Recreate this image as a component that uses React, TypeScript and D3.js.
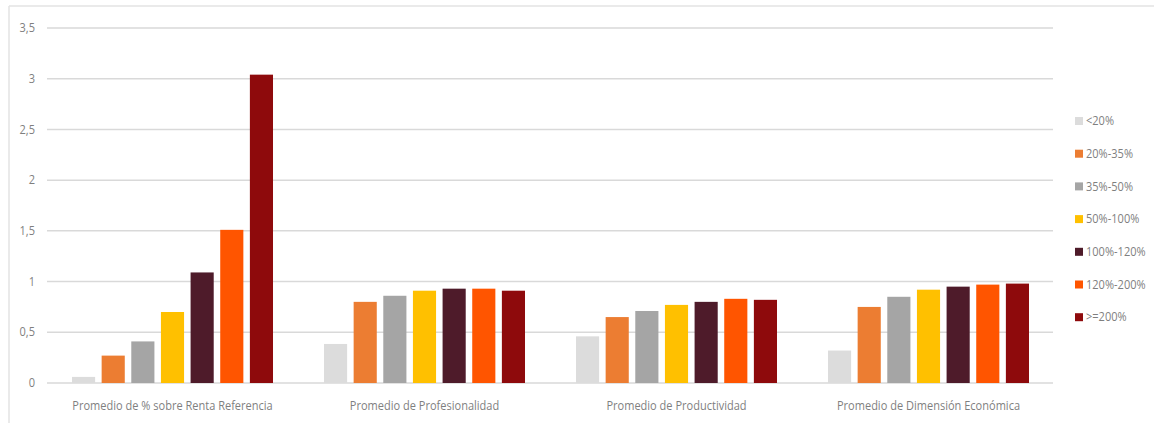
import React from "react";
import * as d3 from "d3";

const categories = [
  "Promedio de % sobre Renta Referencia",
  "Promedio de Profesionalidad",
  "Promedio de Productividad",
  "Promedio de Dimensión Económica",
];
const seriesNames = ["<20%", "20%-35%", "35%-50%", "50%-100%", "100%-120%", "120%-200%", ">=200%"];
const seriesColors = ["#DCDCDC", "#EC7D32", "#A5A5A5", "#FFC000", "#4E1B2A", "#FF5500", "#8E0A0C"];
const s_lt20 = [0.06, 0.385, 0.46, 0.32];
const s_20_35 = [0.27, 0.8, 0.65, 0.75];
const s_35_50 = [0.41, 0.86, 0.71, 0.85];
const s_50_100 = [0.7, 0.91, 0.77, 0.92];
const s_100_120 = [1.09, 0.93, 0.8, 0.95];
const s_120_200 = [1.51, 0.93, 0.83, 0.97];
const s_ge200 = [3.04, 0.91, 0.82, 0.98];
const seriesValues = [s_lt20, s_20_35, s_35_50, s_50_100, s_100_120, s_120_200, s_ge200];
const yTicks = [0, 0.5, 1, 1.5, 2, 2.5, 3, 3.5];

const W = 1154;
const H = 423;
const FONT = "'Open Sans', sans-serif";
const SX = 0.92;

function NarrowText({
  x,
  y,
  anchor,
  children,
}: {
  x: number;
  y: number;
  anchor: "start" | "middle" | "end";
  children: React.ReactNode;
}) {
  return (
    <g transform={`translate(${x},${y}) scale(${SX},1)`}>
      <text x={0} y={0} dy="0.35em" textAnchor={anchor} fontSize={12} fill="#7F7F7F" fontFamily={FONT}>
        {children}
      </text>
    </g>
  );
}

export default function App() {
  const x0 = d3.scaleBand<string>().domain(categories).range([46.5, 1054.5]).paddingInner(0).paddingOuter(0);
  const x1 = d3
    .scaleBand<string>()
    .domain(seriesNames)
    .range([0, x0.bandwidth()])
    .paddingInner(0.22)
    .paddingOuter(0.86);
  const y = d3.scaleLinear().domain([0, 3.5]).range([383, 28]);
  const fmt = (v: number) => String(v).replace(".", ",");

  return (
    <div style={{ position: "absolute", left: 0, top: 0 }}>
      <svg width={W} height={H} style={{ display: "block", background: "#fff" }}>
        <line x1={9} x2={W} y1={6} y2={6} stroke="#E3E3E3" strokeWidth={1.5} />
        <line x1={9} x2={9} y1={6} y2={H} stroke="#E3E3E3" strokeWidth={1.5} />
        {yTicks.map((t) => (
          <g key={t}>
            <line x1={47} x2={1053} y1={y(t)} y2={y(t)} stroke="#D9D9D9" strokeWidth={1.5} />
            <NarrowText x={35} y={y(t)} anchor="end">
              {fmt(t)}
            </NarrowText>
          </g>
        ))}
        {categories.map((c, ci) => (
          <g key={c} transform={`translate(${x0(c)},0)`}>
            {seriesNames.map((s, si) => {
              const v = seriesValues[si][ci];
              return (
                <rect
                  key={s}
                  x={x1(s)}
                  y={y(v)}
                  width={x1.bandwidth()}
                  height={y(0) - y(v)}
                  fill={seriesColors[si]}
                />
              );
            })}
            <NarrowText x={x0.bandwidth() / 2} y={406} anchor="middle">
              {c}
            </NarrowText>
          </g>
        ))}
        {seriesNames.map((s, si) => (
          <g key={s} transform={`translate(1075,${121 + si * 32.7})`}>
            <rect x={0} y={-4} width={8} height={8} fill={seriesColors[si]} />
            <NarrowText x={11} y={0} anchor="start">
              {s}
            </NarrowText>
          </g>
        ))}
      </svg>
    </div>
  );
}
